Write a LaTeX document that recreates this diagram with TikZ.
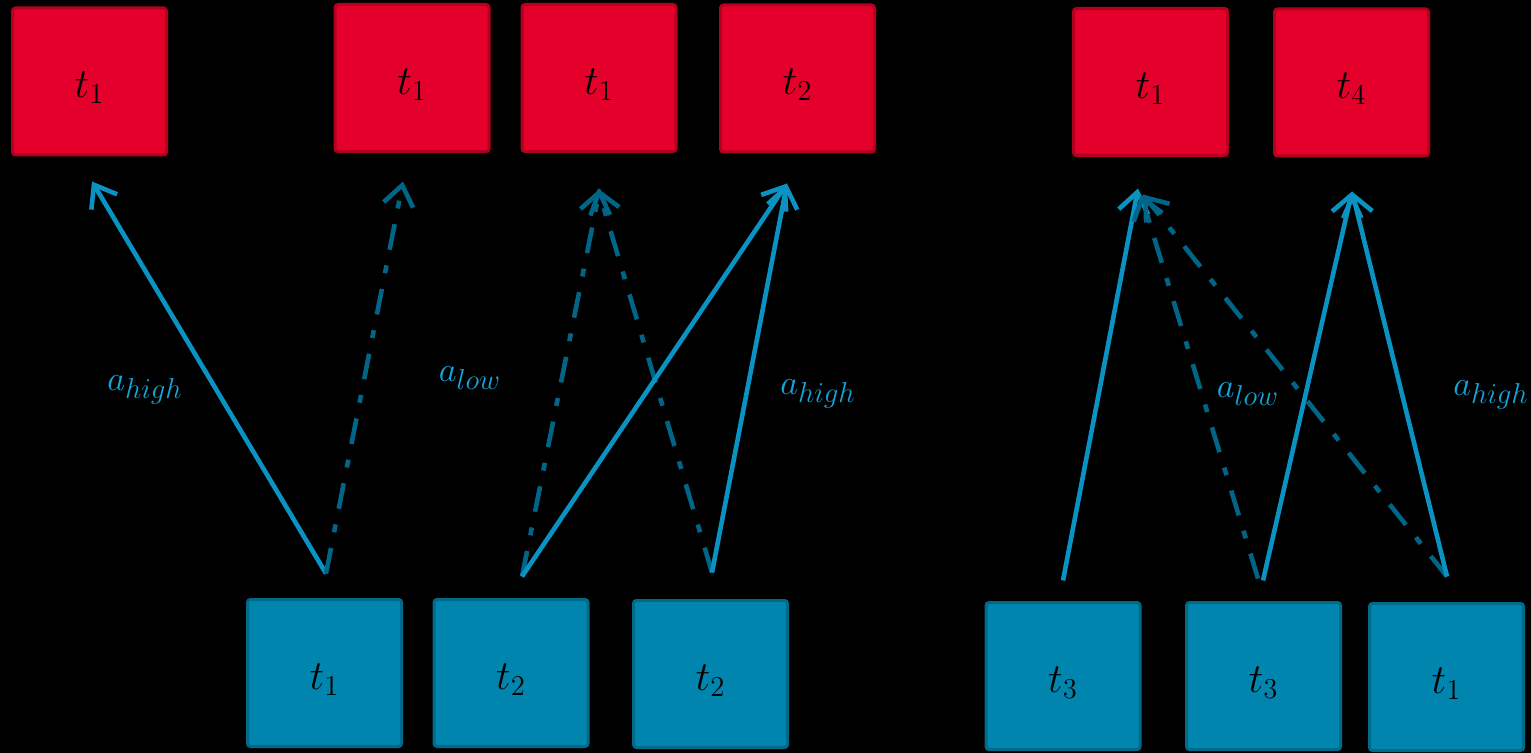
\documentclass[tikz,border=0pt]{standalone}
\usetikzlibrary{arrows.meta,calc}
\pgfdeclarelayer{bg}
\pgfsetlayers{bg,main}
\definecolor{redfill}{HTML}{E4002B}
\definecolor{redline}{HTML}{B3001F}
\definecolor{bluefill}{HTML}{0086AE}
\definecolor{blueline}{HTML}{006A8A}
\definecolor{arrowsolid}{HTML}{0A92C2}
\definecolor{arrowdash}{HTML}{006586}
\definecolor{labelcol}{HTML}{12A6DA}
\tikzset{
  box/.style={draw, line width=1.5pt, rounded corners=1.5pt, minimum width=77pt,
    minimum height=73.5pt, inner sep=0pt, text height=19.5pt, text depth=3.3pt,
    font=\fontsize{22}{26}\selectfont},
  redbox/.style={box, fill=redfill, draw=redline},
  bluebox/.style={box, fill=bluefill, draw=blueline},
  tipstyle/.style={-{Straight Barb[length=10pt,width=15pt,line width=2.3pt]}},
  solidarrow/.style={draw=arrowsolid, line width=2.3pt, tipstyle},
  dasharrow/.style={draw=arrowdash, line width=2.3pt, dash pattern=on 13pt off 8pt on 4pt off 8pt, tipstyle},
  lbl/.style={text=labelcol, inner sep=0pt, font=\fontsize{19}{22}\selectfont}
}
\begin{document}
\begin{tikzpicture}[x=0.5pt,y=-0.5pt]
\fill[black] (0,0) rectangle (1531,753);
\useasboundingbox (0,0) rectangle (1531,753);

% top (red) boxes
\node[redbox] (R1) at (89.5,81.5) {$t_1$};
\node[redbox] (R2) at (412,78) {$t_1$};
\node[redbox] (R3) at (599,78) {$t_1$};
\node[redbox] (R4) at (797.5,78.5) {$t_2$};
\node[redbox] (R5) at (1150.5,82) {$t_1$};
\node[redbox] (R6) at (1351.5,82.5) {$t_4$};

% bottom (blue) boxes
\node[bluebox] (B1) at (324.5,673) {$t_1$};
\node[bluebox] (B2) at (511,673) {$t_2$};
\node[bluebox] (B3) at (710.5,674) {$t_2$};
\node[bluebox] (B4) at (1063,676) {$t_3$};
\node[bluebox] (B5) at (1263.5,676) {$t_3$};
\node[bluebox] (B6) at (1446.5,677) {$t_1$};

% soft glow behind boxes
\begin{pgfonlayer}{bg}
\foreach \n in {R1,R2,R3,R4,R5,R6,B1,B2,B3,B4,B5,B6}{
  \foreach \e in {5,10,15,20}{
    \fill[white, opacity=0.045, rounded corners=6pt]
      ([shift={(-\e,-\e+4)}]\n.north west) rectangle ([shift={(\e,\e+6)}]\n.south east);
  }
}
\end{pgfonlayer}

% left group
\draw[solidarrow] ([shift={(1.5,-24.5)}]B1.north) -- ([shift={(2.5,25)}]R1.south);
\draw[dasharrow] ([shift={(1.5,-24.5)}]B1.north) -- ([shift={(-9,28.5)}]R2.south);
\draw[dasharrow] ([shift={(11,-21.5)}]B2.north) -- ([shift={(1,35.5)}]R3.south);
\draw[dasharrow] ([shift={(1.5,-26.5)}]B3.north) -- ([shift={(-1,35.5)}]R3.south);
\draw[solidarrow] ([shift={(11,-21.5)}]B2.north) -- ([shift={(-10.5,30)}]R4.south);
\draw[solidarrow] ([shift={(1.5,-26.5)}]B3.north) -- ([shift={(-10.5,30)}]R4.south);

% right group
\draw[solidarrow] ([shift={(0,-20.5)}]B4.north) -- ([shift={(-12.5,31.5)}]R5.south);
\draw[dasharrow] ([shift={(-5.5,-22.5)}]B5.north) -- ([shift={(-9.5,37.5)}]R5.south);
\draw[dasharrow] ([shift={(0.5,-25.5)}]B6.north) -- ([shift={(-7.5,37.5)}]R5.south);
\draw[solidarrow] ([shift={(-0.5,-20.5)}]B5.north) -- ([shift={(0.5,34)}]R6.south);
\draw[solidarrow] ([shift={(0.5,-25.5)}]B6.north) -- ([shift={(0.5,34)}]R6.south);

% labels
\node[lbl] (L1) at (145,390) {$a_{high}$};
\node[lbl] (L2) at (470,378) {$a_{low}$};
\node[lbl] (L3) at (818,394) {$a_{high}$};
\node[lbl] (L4) at (1248,394) {$a_{low}$};
\node[lbl] (L5) at (1491,395) {$a_{high}$};
\end{tikzpicture}
\end{document}
